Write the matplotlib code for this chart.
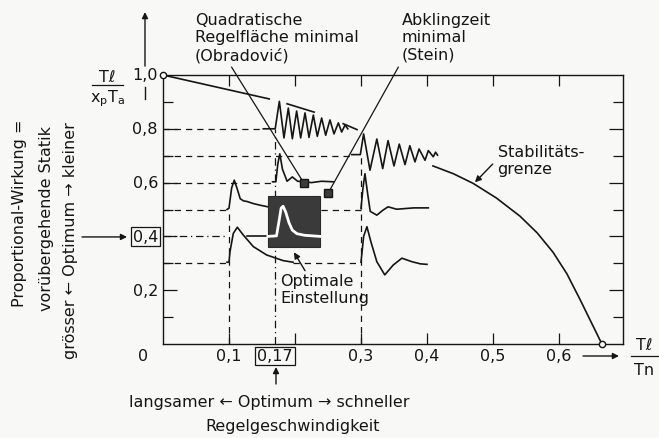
from matplotlib import pyplot as plt
from matplotlib.patches import Rectangle

# --- data (x = Tl/Tn, y = Tl/(xp Ta)) ---

# stability boundary, interrupted where the oscillating responses are drawn
stab_1_x = [0.0, 0.161]
stab_1_y = [1.0, 0.911]
stab_2_x = [0.188, 0.229]
stab_2_y = [0.893, 0.862]
stab_3_x = [0.273, 0.294]
stab_3_y = [0.819, 0.797]
stab_4_x = [0.409, 0.440, 0.470, 0.505, 0.541, 0.567, 0.591, 0.612, 0.632, 0.650, 0.665]
stab_4_y = [0.662, 0.633, 0.597, 0.543, 0.475, 0.413, 0.341, 0.261, 0.165, 0.075, 0.0]

# small step responses drawn at their setting points
resp_a_x = [0.152, 0.170, 0.1763, 0.1833, 0.1899, 0.1960, 0.2025, 0.2086, 0.2152, 0.2212,
            0.2278, 0.2338, 0.2404, 0.2465, 0.2530, 0.2591, 0.2657, 0.2707, 0.2758, 0.280]
resp_a_y = [0.800, 0.800, 0.902, 0.766, 0.877, 0.763, 0.866, 0.766, 0.859, 0.768,
            0.851, 0.772, 0.840, 0.776, 0.833, 0.781, 0.822, 0.788, 0.814, 0.800]

resp_b_x = [0.286, 0.299, 0.304, 0.3136, 0.324, 0.3329, 0.341, 0.350, 0.358, 0.3667,
            0.374, 0.3818, 0.388, 0.397, 0.402, 0.4095, 0.413, 0.416]
resp_b_y = [0.704, 0.704, 0.781, 0.646, 0.762, 0.652, 0.756, 0.662, 0.743, 0.667,
            0.737, 0.677, 0.725, 0.683, 0.719, 0.696, 0.713, 0.702]

resp_c_x = [0.166, 0.171, 0.174, 0.177, 0.181, 0.188, 0.196, 0.204, 0.213, 0.225, 0.240, 0.258]
resp_c_y = [0.603, 0.603, 0.670, 0.707, 0.650, 0.605, 0.621, 0.605, 0.603, 0.600, 0.605, 0.603]

resp_d_x = [0.097, 0.100, 0.104, 0.108, 0.112, 0.117, 0.122, 0.127, 0.137, 0.147, 0.159]
resp_d_y = [0.500, 0.505, 0.580, 0.609, 0.580, 0.540, 0.532, 0.530, 0.522, 0.516, 0.510]

resp_e_x = [0.097, 0.100, 0.1015, 0.1065, 0.1126, 0.1217, 0.1369, 0.157, 0.182, 0.197]
resp_e_y = [0.304, 0.304, 0.343, 0.411, 0.434, 0.405, 0.362, 0.331, 0.310, 0.304]

resp_f_x = [0.300, 0.303, 0.306, 0.310, 0.314, 0.324, 0.333, 0.341, 0.354, 0.380, 0.402]
resp_f_y = [0.504, 0.580, 0.633, 0.560, 0.493, 0.479, 0.497, 0.510, 0.501, 0.506, 0.506]

resp_g_x = [0.300, 0.304, 0.309, 0.315, 0.324, 0.336, 0.349, 0.362, 0.377, 0.390, 0.400]
resp_g_y = [0.304, 0.400, 0.436, 0.380, 0.306, 0.257, 0.294, 0.319, 0.306, 0.298, 0.296]

# optimal response shown in the dark inset
inset_x = [0.159, 0.172, 0.176, 0.179, 0.182, 0.186, 0.191, 0.196, 0.203, 0.215, 0.238]
inset_y = [0.400, 0.402, 0.460, 0.505, 0.512, 0.490, 0.450, 0.423, 0.410, 0.404, 0.400]
inset_box = [0.159, 0.362, 0.238, 0.551]  # x0, y0, x1, y1

# dashed guide lines: level -> end of the dash
guide_y = [0.8, 0.7, 0.6, 0.5, 0.3]
guide_x_end = [0.152, 0.286, 0.170, 0.097, 0.097]
guide_right_y = [0.5, 0.3]
guide_right_x0 = [0.240, 0.197]
vert_x = [0.1, 0.17, 0.3]
vert_y_top = [0.5, 0.8, 0.7]

# optimum markers
obradovic_pt = (0.213, 0.600)
stein_pt = (0.250, 0.560)
zero_pts_x = [0.0, 0.665]
zero_pts_y = [1.0, 0.0]

xtick_vals = [0.1, 0.17, 0.3, 0.4, 0.5, 0.6]
xtick_text = ["0,1", "0,17", "0,3", "0,4", "0,5", "0,6"]
ytick_vals = [1.0, 0.8, 0.6, 0.4, 0.2]
ytick_text = ["1,0", "0,8", "0,6", "0,4", "0,2"]


def main():
    ink = "#151515"
    paper = "#f8f8f6"
    fs = 11.5
    lw = 1.2

    fig = plt.figure(figsize=(6.59, 4.39), dpi=100, facecolor=paper)
    ax = fig.add_axes([163 / 659, 94 / 439, 460 / 659, 269 / 439])
    ax.set_facecolor(paper)
    ax.set_xlim(0, 0.697)
    ax.set_ylim(0, 1.0)

    for sp in ax.spines.values():
        sp.set_linewidth(1.0)
        sp.set_color(ink)

    # inward ticks on all four sides
    ax.set_xticks([0.1, 0.2, 0.3, 0.4, 0.5, 0.6])
    ax.set_yticks([0.2, 0.4, 0.6, 0.8])
    ax.set_yticks([0.1, 0.3, 0.5, 0.7, 0.9], minor=True)
    ax.tick_params(axis="x", direction="in", top=True, bottom=True, length=8, width=0.9,
                   color=ink, labelbottom=False)
    ax.tick_params(axis="y", which="major", direction="in", left=True, right=True, length=10,
                   width=0.9, color=ink, labelleft=False)
    ax.tick_params(axis="y", which="minor", direction="in", left=True, right=True, length=7,
                   width=0.9, color=ink)

    # guide lines
    for y, xe in zip(guide_y, guide_x_end):
        ax.plot([0, xe], [y, y], color=ink, lw=0.9, ls=(0, (5, 4)))
    for y, x0 in zip(guide_right_y, guide_right_x0):
        ax.plot([x0, 0.3], [y, y], color=ink, lw=0.9, ls=(0, (5, 4)))
    ax.plot([0, 0.097], [0.4, 0.4], color=ink, lw=0.9, ls=(0, (6, 3, 1, 3)))
    ax.plot([0.127, 0.159], [0.4, 0.4], color=ink, lw=lw)
    for x, yt in zip(vert_x, vert_y_top):
        style = (0, (6, 3, 1, 3)) if x == 0.17 else (0, (5, 4))
        ax.plot([x, x], [0, yt], color=ink, lw=0.9, ls=style)

    # stability boundary
    for xs, ys in [(stab_1_x, stab_1_y), (stab_2_x, stab_2_y), (stab_3_x, stab_3_y),
                   (stab_4_x, stab_4_y)]:
        ax.plot(xs, ys, color=ink, lw=lw, solid_joinstyle="round")
    ax.plot(zero_pts_x, zero_pts_y, "o", ms=4.5, mfc=paper, mec=ink, mew=1.0, clip_on=False,
            zorder=5)

    # step responses
    for xs, ys in [(resp_a_x, resp_a_y), (resp_b_x, resp_b_y), (resp_c_x, resp_c_y),
                   (resp_d_x, resp_d_y), (resp_e_x, resp_e_y), (resp_f_x, resp_f_y),
                   (resp_g_x, resp_g_y)]:
        ax.plot(xs, ys, color=ink, lw=lw, solid_joinstyle="round")

    # inset with the optimal response
    x0, y0, x1, y1 = inset_box
    ax.add_patch(Rectangle((x0, y0), x1 - x0, y1 - y0, fc="#3a3a3a", ec="#2a2a2a", lw=0.8,
                           zorder=4))
    ax.plot(inset_x, inset_y, color="white", lw=2.0, zorder=5, solid_joinstyle="round")

    # leader lines and markers
    ax.plot([0.104, obradovic_pt[0]], [1.029, obradovic_pt[1]], color=ink, lw=0.9,
            clip_on=False)
    ax.plot([0.3565, stein_pt[0]], [1.029, stein_pt[1]], color=ink, lw=0.9, clip_on=False)
    ax.plot([obradovic_pt[0], stein_pt[0]], [obradovic_pt[1], stein_pt[1]], "s", ms=5.5,
            mfc="#3c3c3c", mec=ink, zorder=6)

    arrow = dict(arrowstyle="-|>", color=ink, lw=1.0, mutation_scale=9, shrinkA=0, shrinkB=0)
    ax.annotate("", xy=(0.4727, 0.601), xytext=(0.4995, 0.669), arrowprops=arrow)
    ax.annotate("", xy=(0.1985, 0.341), xytext=(0.2152, 0.2725), arrowprops=arrow)
    ax.annotate("", xy=(-0.0273, 1.234), xytext=(-0.0273, 1.033), arrowprops=arrow,
                annotation_clip=False)
    ax.plot([-0.0273, -0.0273], [0.955, 0.911], color=ink, lw=1.0, clip_on=False)
    ax.annotate("", xy=(-0.0545, 0.398), xytext=(-0.1227, 0.398), arrowprops=arrow,
                annotation_clip=False)
    ax.annotate("", xy=(0.6909, -0.0446), xytext=(0.6364, -0.0446), arrowprops=arrow,
                annotation_clip=False)
    ax.annotate("", xy=(0.1712, -0.0855), xytext=(0.1712, -0.1487), arrowprops=arrow,
                annotation_clip=False)

    box = dict(boxstyle="square,pad=0.12", fc="none", ec=ink, lw=0.9)

    # tick labels
    for v, t in zip(ytick_vals, ytick_text):
        ax.text(-0.0076, v, t, ha="right", va="center", fontsize=fs, color=ink,
                bbox=box if t == "0,4" else None)
    for v, t in zip(xtick_vals, xtick_text):
        ax.text(v, -0.0446, t, ha="center", va="center", fontsize=fs, color=ink,
                bbox=box if t == "0,17" else None)
    ax.text(-0.0303, -0.0446, "0", ha="center", va="center", fontsize=fs, color=ink)

    # fraction labels
    ax.text(-0.0848, 0.996, "T\u2113", ha="center", va="center", fontsize=fs, color=ink)
    ax.plot([-0.1076, -0.0606], [0.963, 0.963], color=ink, lw=0.9, clip_on=False)
    ax.text(-0.0848, 0.914, r"x$_\mathregular{p}$T$_\mathregular{a}$", ha="center",
            va="center", fontsize=fs, color=ink)
    ax.text(0.7288, -0.0037, "T\u2113", ha="center", va="center", fontsize=fs, color=ink)
    ax.plot([0.709, 0.750], [-0.0446, -0.0446], color=ink, lw=0.9, clip_on=False)
    ax.text(0.7288, -0.093, "Tn", ha="center", va="center", fontsize=fs, color=ink)

    # annotations
    ax.text(0.0485, 1.234, "Quadratische\nRegelfläche minimal\n(Obradović)", ha="left",
            va="top", fontsize=fs, color=ink, linespacing=1.2)
    ax.text(0.3617, 1.234, "Abklingzeit\nminimal\n(Stein)", ha="left", va="top",
            fontsize=fs, color=ink, linespacing=1.2)
    ax.text(0.507, 0.7435, "Stabilitäts-\ngrenze", ha="left", va="top", fontsize=fs,
            color=ink, linespacing=1.2)
    ax.text(0.1773, 0.264, "Optimale\nEinstellung", ha="left", va="top", fontsize=fs,
            color=ink, linespacing=1.2)

    # side and bottom descriptions
    ax.text(-0.2167, 0.4907, "Proportional-Wirkung =", rotation=90, ha="center",
            va="center", fontsize=fs, color=ink)
    ax.text(-0.1758, 0.472, "vorübergehende Statik", rotation=90, ha="center", va="center",
            fontsize=fs, color=ink)
    ax.text(-0.1394, 0.390, "grösser \u2190 Optimum \u2192 kleiner", rotation=90,
            ha="center", va="center", fontsize=fs, color=ink)
    ax.text(0.1606, -0.2119, "langsamer \u2190 Optimum \u2192 schneller", ha="center",
            va="center", fontsize=fs, color=ink)
    ax.text(0.197, -0.3048, "Regelgeschwindigkeit", ha="center", va="center", fontsize=fs,
            color=ink)

    fig.savefig("out.png", dpi=100, facecolor=paper)


main()
